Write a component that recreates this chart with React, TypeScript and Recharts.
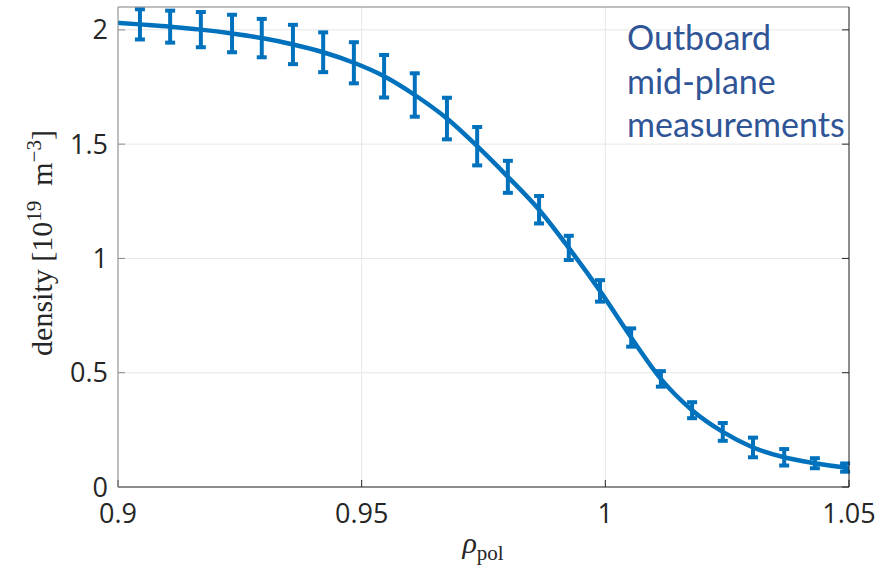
import React from 'react'
import { ComposedChart, Line, Scatter, ErrorBar, XAxis, YAxis, CartesianGrid } from 'recharts'

// measured points (outboard mid-plane)
const rho = [
  0.9045, 0.9107, 0.917, 0.9234, 0.9295, 0.9359, 0.9421, 0.9484, 0.9546, 0.9609, 0.9675, 0.9737,
  0.98, 0.9864, 0.9925, 0.9989, 1.0053, 1.0114, 1.0178, 1.0241, 1.0303, 1.0367, 1.043, 1.0492,
]
const density = [
  2.024, 2.014, 2.001, 1.984, 1.964, 1.936, 1.902, 1.856, 1.797, 1.715, 1.612, 1.491,
  1.357, 1.213, 1.046, 0.858, 0.654, 0.473, 0.336, 0.241, 0.173, 0.13, 0.104, 0.085,
]
const densityErr = [
  0.066, 0.07, 0.077, 0.082, 0.084, 0.086, 0.087, 0.09, 0.093, 0.095, 0.091, 0.084,
  0.07, 0.06, 0.053, 0.047, 0.04, 0.034, 0.035, 0.039, 0.043, 0.036, 0.022, 0.018,
]

// fitted profile
const fitRho = [
  0.9, 0.9045, 0.9107, 0.917, 0.9234, 0.9295, 0.9359, 0.9421, 0.9484, 0.9546, 0.9609, 0.9675, 0.9737,
  0.98, 0.9864, 0.9925, 0.9989, 1.0053, 1.0114, 1.0178, 1.0241, 1.0303, 1.0367, 1.043, 1.0492, 1.05,
]
const fitDensity = [
  2.031, 2.024, 2.014, 2.001, 1.984, 1.964, 1.936, 1.902, 1.856, 1.797, 1.715, 1.612, 1.491,
  1.357, 1.213, 1.046, 0.858, 0.654, 0.473, 0.336, 0.241, 0.173, 0.13, 0.104, 0.085, 0.083,
]

const xTicks = [0.9, 0.95, 1, 1.05]
const yTicks = [0, 0.5, 1, 1.5, 2]

const BLUE = '#0072BD'
const AXIS = '#262626'
const tickFont = { fontFamily: 'Open Sans', fontSize: 27, fill: AXIS }

const points = rho.map((x, i) => ({ x, y: density[i], err: densityErr[i] }))
const fit = fitRho.map((x, i) => ({ x, y: fitDensity[i] }))

const noLabel = () => <g />

export default function App() {
  return (
    <div style={{ position: 'absolute', left: 0, top: 0, width: 895, height: 568, background: '#fff' }}>
      <ComposedChart width={895} height={568} margin={{ top: 0, right: 0, bottom: 0, left: 0 }}>
        <CartesianGrid stroke="#e6e6e6" />
        <XAxis
          type="number"
          dataKey="x"
          domain={[0.9, 1.05]}
          ticks={xTicks}
          allowDataOverflow
          height={81}
          stroke={AXIS}
          tickSize={-7}
          tickMargin={24}
          tick={tickFont}
          tickFormatter={(v: number) => String(v)}
        />
        <XAxis
          xAxisId="top"
          orientation="top"
          type="number"
          domain={[0.9, 1.05]}
          ticks={xTicks}
          allowDataOverflow
          height={7}
          stroke="#8a8a8a"
          tickSize={-7}
          tick={noLabel}
        />
        <YAxis
          type="number"
          dataKey="y"
          domain={[0, 2.1]}
          ticks={yTicks}
          allowDataOverflow
          width={118}
          stroke="#8a8a8a"
          tickSize={-7}
          tickMargin={17}
          tick={tickFont}
          tickFormatter={(v: number) => String(v)}
        />
        <YAxis
          yAxisId="right"
          orientation="right"
          type="number"
          domain={[0, 2.1]}
          ticks={yTicks}
          allowDataOverflow
          width={46}
          stroke={AXIS}
          tickSize={-7}
          tick={noLabel}
        />
        <Line
          data={fit}
          dataKey="y"
          type="monotone"
          stroke={BLUE}
          strokeWidth={4.5}
          dot={false}
          isAnimationActive={false}
        />
        <Scatter data={points} dataKey="y" fill={BLUE} shape={noLabel} isAnimationActive={false}>
          <ErrorBar dataKey="err" direction="y" width={5} stroke={BLUE} strokeWidth={4} />
        </Scatter>
      </ComposedChart>

      {/* axis labels */}
      <div
        style={{
          position: 'absolute',
          left: 40,
          top: 243,
          transform: 'translate(-50%, -50%) rotate(-90deg)',
          whiteSpace: 'nowrap',
          fontFamily: 'Liberation Serif',
          fontSize: 30,
          color: AXIS,
        }}
      >
        density&nbsp;[10<sup style={{ fontSize: '0.7em' }}>19</sup>&nbsp;&nbsp;m<sup style={{ fontSize: '0.7em' }}>−3</sup>]
      </div>
      <div
        style={{
          position: 'absolute',
          left: 483,
          top: 546,
          transform: 'translate(-50%, -50%)',
          whiteSpace: 'nowrap',
          fontFamily: 'Liberation Serif',
          fontSize: 30,
          color: AXIS,
        }}
      >
        <i>ρ</i>
        <sub style={{ fontSize: '0.7em' }}>pol</sub>
      </div>

      {/* annotation */}
      <div
        style={{
          position: 'absolute',
          left: 627,
          top: 15,
          fontFamily: 'Lato',
          fontSize: 34,
          lineHeight: '43.5px',
          color: '#2F5597',
        }}
      >
        Outboard
        <br />
        mid-plane
        <br />
        measurements
      </div>
    </div>
  )
}
